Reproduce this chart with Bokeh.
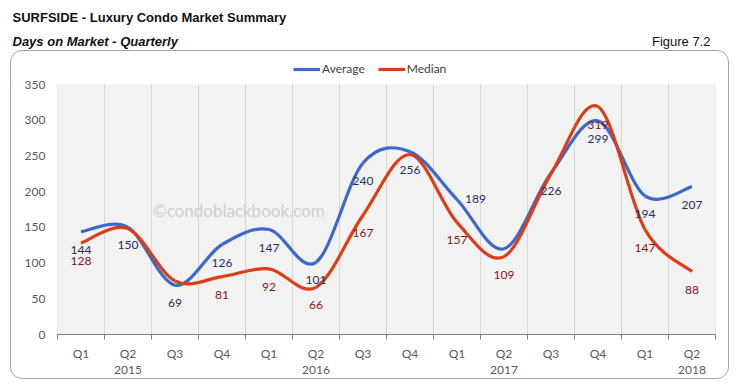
from bokeh.plotting import figure
from bokeh.models import (Label, LinearAxis, FixedTicker, Legend, LegendItem, BoxAnnotation,
                          ColumnDataSource, Range1d, InlineStyleSheet)
from bokeh.core.properties import value
from bokeh.embed import file_html
from bokeh.resources import INLINE

# ---------------- data ----------------
quarters = ["Q1", "Q2", "Q3", "Q4", "Q1", "Q2", "Q3", "Q4", "Q1", "Q2", "Q3", "Q4", "Q1", "Q2"]
years = ["2015", "2016", "2017", "2018"]
year_quarter_index = [1, 5, 9, 13]          # year label sits under this quarter
average = [144, 150, 69, 126, 147, 101, 240, 256, 189, 120, 226, 299, 194, 207]
median = [128, 148, 75, 81, 92, 66, 167, 252, 157, 109, 225, 319, 147, 88]
average_labels = ["144", "150", "69", "126", "147", "101", "240", "256", "189", "", "226", "299", "194", "207"]
median_labels = ["128", "", "", "81", "92", "66", "167", "", "157", "109", "", "319", "147", "88"]
y_ticks = [0, 50, 100, 150, 200, 250, 300, 350]

BLUE = "#3c68cc"
RED = "#db3d17"
FONT = "Lato"

n = len(quarters)
xs = [i + 0.5 for i in range(n)]
y_max = y_ticks[-1]

# layout (pixels)
FRAME_W, PLOT_H, LEGEND_H = 658, 250, 26
y_top = y_max * (PLOT_H + LEGEND_H) / PLOT_H   # extra room above the plot area for the legend


def smooth_segments(xv, yv):
    """Catmull-Rom style cubic Bezier segments through the data points."""
    d = dict(x0=[], y0=[], x1=[], y1=[], cx0=[], cy0=[], cx1=[], cy1=[])
    m = len(xv)
    for i in range(m - 1):
        a = i - 1 if i > 0 else i
        b = i + 2 if i + 2 < m else i + 1
        d["x0"].append(xv[i]); d["y0"].append(yv[i])
        d["x1"].append(xv[i + 1]); d["y1"].append(yv[i + 1])
        d["cx0"].append(xv[i] + (xv[i + 1] - xv[a]) / 6.0)
        d["cy0"].append(yv[i] + (yv[i + 1] - yv[a]) / 6.0)
        d["cx1"].append(xv[i + 1] - (xv[b] - xv[i]) / 6.0)
        d["cy1"].append(yv[i + 1] - (yv[b] - yv[i]) / 6.0)
    return ColumnDataSource(d)


box_css = InlineStyleSheet(css="""
:host::after {
  content: "";
  position: absolute;
  left: 10px; top: 50px; width: 719px; height: 329px;
  box-sizing: border-box;
  border: 1px solid #a6a6a6;
  border-radius: 12px;
  pointer-events: none;
}
""")

p = figure(frame_width=FRAME_W, frame_height=PLOT_H + LEGEND_H,
           min_border_left=57, min_border_right=15, min_border_top=58, min_border_bottom=48,
           x_range=Range1d(0, n), y_range=Range1d(0, y_top),
           x_axis_location=None, y_axis_location=None, title_location=None,
           output_backend="svg", toolbar_location=None,
           background_fill_color="white", border_fill_color="white",
           stylesheets=[box_css])
p.outline_line_color = None
for g in p.grid:
    g.visible = False

# plot area background and vertical category separators
p.add_layout(BoxAnnotation(left=0, right=n, bottom=0, top=y_max, fill_color="#f2f2f2",
                           fill_alpha=1, line_color=None, level="underlay"))
bounds = list(range(n + 1))
p.segment(x0=bounds, y0=[0] * len(bounds), x1=bounds, y1=[y_max] * len(bounds),
          line_color="#d6d6d6", line_width=1)

yaxis = LinearAxis(ticker=FixedTicker(ticks=y_ticks), axis_line_color=None,
                   major_tick_line_color=None, minor_tick_line_color=None,
                   major_tick_out=0, major_tick_in=0, major_label_standoff=12,
                   major_label_text_font=FONT, major_label_text_font_size="12px",
                   major_label_text_color="#595959")
p.add_layout(yaxis, "left")

qaxis = LinearAxis(ticker=FixedTicker(ticks=xs, minor_ticks=bounds),
                   major_label_overrides={x: q for x, q in zip(xs, quarters)},
                   axis_line_color="#7f7f7f", axis_line_width=1,
                   major_tick_line_color=None, major_tick_out=5, major_tick_in=0,
                   minor_tick_line_color="#7f7f7f", minor_tick_out=5, minor_tick_in=0,
                   major_label_standoff=6,
                   major_label_text_font=FONT, major_label_text_font_size="12px",
                   major_label_text_color="#595959")
p.add_layout(qaxis, "below")

year_x = [xs[i] for i in year_quarter_index]
yraxis = LinearAxis(ticker=FixedTicker(ticks=year_x, minor_ticks=[]),
                    major_label_overrides={x: y for x, y in zip(year_x, years)},
                    axis_line_color=None, major_tick_line_color=None, minor_tick_line_color=None,
                    major_tick_out=0, major_tick_in=0, major_label_standoff=2,
                    major_label_text_font=FONT, major_label_text_font_size="12px",
                    major_label_text_color="#595959")
p.add_layout(yraxis, "below")

# watermark
p.add_layout(Label(x=95, y=124, x_units="screen", y_units="screen", text="\u00a9condoblackbook.com",
                   text_font=FONT, text_font_size="17px", text_color="#cfcfcf",
                   text_baseline="middle", text_align="left"))

# smoothed lines
p.bezier(x0="x0", y0="y0", x1="x1", y1="y1", cx0="cx0", cy0="cy0", cx1="cx1", cy1="cy1",
         source=smooth_segments(xs, average), line_color=BLUE, line_width=3.2)
p.bezier(x0="x0", y0="y0", x1="x1", y1="y1", cx0="cx0", cy0="cy0", cx1="cx1", cy1="cy1",
         source=smooth_segments(xs, median), line_color=RED, line_width=3.2)

# data labels
right_side = {8}
ib = [i for i in range(n) if average_labels[i] and i not in right_side]
ir = [i for i in range(n) if average_labels[i] and i in right_side]
im = [i for i in range(n) if median_labels[i]]
avg_below = ColumnDataSource(dict(x=[xs[i] for i in ib], y=[average[i] for i in ib], t=[average_labels[i] for i in ib]))
avg_right = ColumnDataSource(dict(x=[xs[i] for i in ir], y=[average[i] for i in ir], t=[average_labels[i] for i in ir]))
med_src = ColumnDataSource(dict(x=[xs[i] for i in im], y=[median[i] for i in im], t=[median_labels[i] for i in im]))
common = dict(text="t", text_font=value(FONT), text_font_size=value("12px"), text_baseline="middle")
p.text(x="x", y="y", source=avg_below, text_color="#1f2f57", text_align="center", y_offset=18, **common)
p.text(x="x", y="y", source=avg_right, text_color="#1f2f57", text_align="left", x_offset=8, y_offset=-1, **common)
p.text(x="x", y="y", source=med_src, text_color="#8a1212", text_align="center", y_offset=18, **common)

# legend proxies (a single NaN point: nothing drawn in the plot, but a legend swatch)
nan = float("nan")
la = p.line(x=[nan], y=[nan], line_color=BLUE, line_width=3.2)
lm = p.line(x=[nan], y=[nan], line_color=RED, line_width=3.2)
legend = Legend(items=[LegendItem(label="Average", renderers=[la]),
                       LegendItem(label="Median", renderers=[lm])],
                orientation="horizontal", location=(236, PLOT_H + 8),
                padding=0, margin=0, spacing=13, glyph_width=27, glyph_height=14,
                label_height=14, label_standoff=2,
                label_text_font=FONT, label_text_font_size="12px", label_text_color="#404040",
                border_line_color=None, background_fill_alpha=0)
p.add_layout(legend, "center")

# header texts in the side panel (not clipped to the frame); first added sits nearest the frame
p.add_layout(Label(x=653, y=17, x_units="screen", y_units="screen",
                   text="Figure 7.2", text_align="right",
                   text_font="Liberation Sans", text_font_size="13px",
                   text_color="#111111", text_baseline="middle"), "above")
p.add_layout(Label(x=-45, y=2, x_units="screen", y_units="screen",
                   text="Days on Market - Quarterly",
                   text_font="Liberation Sans", text_font_style="bold italic", text_font_size="13px",
                   text_color="#111111", text_baseline="middle"), "above")
p.add_layout(Label(x=-45, y=11, x_units="screen", y_units="screen",
                   text="SURFSIDE - Luxury Condo Market Summary",
                   text_font="Liberation Sans", text_font_style="bold", text_font_size="13px",
                   text_color="#111111", text_baseline="middle"), "above")

open("out.html", "w").write(file_html(p, INLINE))
